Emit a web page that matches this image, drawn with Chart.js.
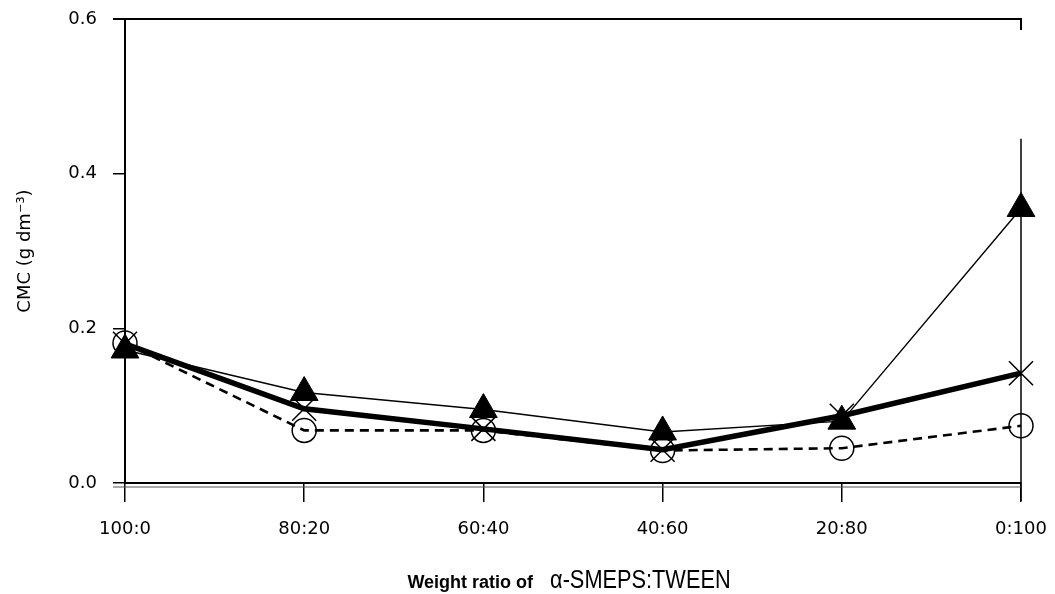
<!DOCTYPE html>
<html><head><meta charset="utf-8">
<script src="https://cdn.jsdelivr.net/npm/chart.js@4/dist/chart.umd.min.js"></script>
<style>html,body{margin:0;padding:0;background:#fff;overflow:hidden}</style>
</head><body>
<canvas id="c" width="1055" height="594"></canvas>
<script>
// Weight ratio of α-SMEPS : TWEEN
const ratios = ['100:0', '80:20', '60:40', '40:60', '20:80', '0:100'];
// CMC values (g dm⁻³) for the three curves
const cmcTriangle = [0.172, 0.117, 0.095, 0.066, 0.080, 0.355];
const cmcCross = [0.180, 0.096, 0.070, 0.043, 0.087, 0.142];
const cmcCircle = [0.181, 0.068, 0.068, 0.042, 0.045, 0.074];
const yTicks = [0, 0.2, 0.4, 0.6];

const INK = '#000';

// Frame lines: top line at the axis maximum, right-hand guide and the doubled base line
const framePlugin = {
  id: 'frame',
  afterDatasetsDraw(chart) {
    const { ctx, chartArea: a, scales: { y } } = chart;
    const yTop = y.getPixelForValue(0.6);
    const yZero = y.getPixelForValue(0);
    ctx.save();
    ctx.strokeStyle = INK;
    ctx.lineWidth = 2;
    ctx.beginPath();
    ctx.moveTo(a.left - 12, yTop);
    ctx.lineTo(a.right + 1, yTop);
    ctx.moveTo(a.right, yTop);
    ctx.lineTo(a.right, yTop + 11);
    ctx.stroke();
    ctx.lineWidth = 1.5;
    ctx.beginPath();
    ctx.moveTo(a.right, y.getPixelForValue(0.445));
    ctx.lineTo(a.right, yZero + 18);
    ctx.stroke();
    ctx.lineWidth = 1;
    ctx.strokeStyle = '#555';
    ctx.beginPath();
    ctx.moveTo(a.left - 12, yZero + 4);
    ctx.lineTo(a.right, yZero + 4);
    ctx.stroke();
    ctx.restore();
  }
};

// Axis titles
const titlePlugin = {
  id: 'titles',
  afterDraw(chart) {
    const { ctx, chartArea: a } = chart;
    ctx.save();
    ctx.fillStyle = INK;
    // y title
    ctx.translate(25, (a.top + a.bottom) / 2);
    ctx.rotate(-Math.PI / 2);
    ctx.font = '18px "DejaVu Sans"';
    ctx.textAlign = 'center';
    ctx.textBaseline = 'middle';
    ctx.fillText('CMC (g dm⁻³)', 0, 0);
    ctx.restore();

    // x title, two parts
    ctx.save();
    ctx.fillStyle = INK;
    ctx.textBaseline = 'alphabetic';
    ctx.textAlign = 'left';
    const part1 = 'Weight ratio of';
    const part2 = 'α-SMEPS:TWEEN';
    const font1 = 'bold 18px "Liberation Sans"';
    const font2 = '25px "Liberation Sans"';
    ctx.font = font1;
    const w1 = ctx.measureText(part1).width;
    ctx.font = font2;
    const sx = 0.87;
    const w2 = ctx.measureText(part2).width * sx;
    const gap = 17;
    const total = w1 + gap + w2;
    const x0 = (a.left + a.right) / 2 - 4 - total / 2;
    const base = 588;
    ctx.font = font1;
    ctx.fillText(part1, x0, base);
    ctx.font = font2;
    ctx.translate(x0 + w1 + gap, base);
    ctx.scale(sx, 1);
    ctx.fillText(part2, 0, 0);
    ctx.restore();
  }
};

Chart.defaults.font.family = '"DejaVu Sans"';
Chart.defaults.color = INK;

new Chart(document.getElementById('c'), {
  type: 'line',
  data: {
    labels: ratios,
    datasets: [
      {
        data: cmcTriangle,
        borderColor: INK,
        borderWidth: 1.4,
        pointStyle: 'triangle',
        pointRadius: 16,
        pointBackgroundColor: INK,
        pointBorderColor: INK,
        pointBorderWidth: 1,
        tension: 0,
        order: 1
      },
      {
        data: cmcCross,
        borderColor: INK,
        borderWidth: 5.5,
        pointStyle: 'crossRot',
        pointRadius: 17,
        pointBorderColor: INK,
        pointBorderWidth: 1.5,
        tension: 0,
        order: 2
      },
      {
        data: cmcCircle,
        borderColor: INK,
        borderWidth: 2.6,
        borderDash: [9, 6],
        pointStyle: 'circle',
        pointRadius: 12,
        pointBackgroundColor: 'rgba(0,0,0,0)',
        pointBorderColor: INK,
        pointBorderWidth: 1.5,
        tension: 0,
        order: 3
      }
    ]
  },
  options: {
    responsive: false,
    animation: false,
    events: [],
    layout: { padding: { top: 19, right: 34, left: 0, bottom: 0 } },
    plugins: { legend: { display: false }, tooltip: { enabled: false } },
    scales: {
      x: {
        type: 'category',
        offset: false,
        grid: { drawOnChartArea: false, drawTicks: true, tickLength: 19, color: INK, lineWidth: 1.5 },
        border: { display: true, color: INK, width: 2 },
        ticks: { font: { size: 18 }, color: INK, padding: 17, maxRotation: 0, autoSkip: false },
        afterFit(s) { s.height = 111; s.paddingLeft = 0; s.paddingRight = 0; }
      },
      y: {
        min: 0,
        max: 0.6,
        grid: { drawOnChartArea: false, drawTicks: true, tickLength: 12, color: INK, lineWidth: 1.5 },
        border: { display: true, color: INK, width: 2 },
        ticks: { font: { size: 18 }, color: INK, padding: 16, callback: v => Number(v).toFixed(1) },
        afterBuildTicks(s) { s.ticks = yTicks.map(v => ({ value: v })); },
        afterFit(s) { s.width = 125; s.paddingTop = 0; s.paddingBottom = 0; }
      }
    }
  },
  plugins: [framePlugin, titlePlugin]
});
</script>
</body></html>
